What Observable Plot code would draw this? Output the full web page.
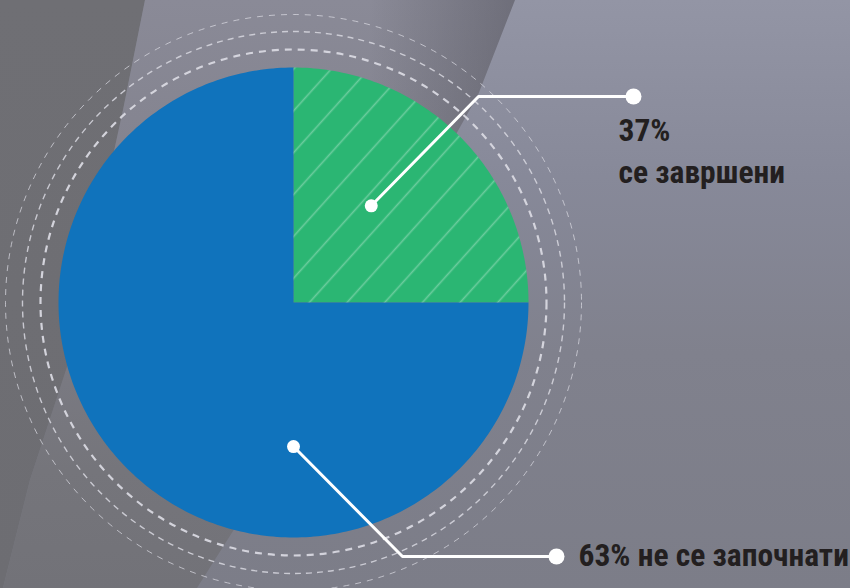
<!DOCTYPE html>
<html>
<head>
<meta charset="utf-8">
<script src="https://cdn.jsdelivr.net/npm/d3@7"></script>
<script src="https://cdn.jsdelivr.net/npm/@observablehq/plot@0.6"></script>
<style>
  html, body { margin: 0; padding: 0; background: #7e7f8a; }
  #wrap { position: relative; width: 850px; height: 588px; overflow: hidden;
    background: linear-gradient(180deg, #9395a5 0%, #878999 30%, #80818d 60%, #7c7d88 100%); }
  .bg { position: absolute; left: 0; top: 0; width: 850px; height: 588px; }
  #band { clip-path: polygon(145px 0, 515px 0, 478px 95px, 240px 520px, 197px 588px, 3px 588px, 30px 480px, 67px 367px, 123px 110px);
    background: linear-gradient(180deg, #8a8a97 0%, #80808b 40%, #75757b 80%, #727278 100%); }
  #bandShade { clip-path: polygon(145px 0, 515px 0, 478px 95px, 240px 520px, 197px 588px, 3px 588px, 30px 480px, 67px 367px, 123px 110px);
    background: linear-gradient(90deg, rgba(40,40,48,0) 0px, rgba(40,40,48,0) 370px, rgba(40,40,48,0.28) 515px); }
  #left { clip-path: polygon(0 0, 145px 0, 123px 110px, 67px 367px, 30px 480px, 3px 588px, 0 588px);
    background: linear-gradient(180deg, #6f6f74 0%, #6d6d72 100%); }
  #chart { position: absolute; left: 0; top: 0; }
</style>
</head>
<body>
<div id="wrap">
  <div class="bg" id="band"></div>
  <div class="bg" id="bandShade"></div>
  <div class="bg" id="left"></div>
  <div id="chart"></div>
</div>
<script>
// ---- data ----
const categories = ["се завршени", "не се започнати"];
// share of the circle as drawn in the picture (green wedge is a quarter)
const sliceShares = [25, 75];
// labels printed next to the chart
const percentLabels = ["37%", "63%"];

// ---- layout / style ----
const W = 850, H = 588;
const cx = 293, cy = 302, R = 235;
const sliceColors = ["#2bb673", "#1073bc"];
const font = "'Liberation Sans Narrow', 'Roboto Condensed', 'DejaVu Sans Condensed', Roboto, sans-serif";

const slices = categories.map((c, i) => ({category: c, share: sliceShares[i], label: percentLabels[i]}));
const arcs = d3.pie().sort(null).value(d => d.share)(slices);

// polygon outline of every slice
const poly = [];
for (const a of arcs) {
  const n = Math.max(8, Math.round((a.endAngle - a.startAngle) / (2 * Math.PI) * 360));
  poly.push({category: a.data.category, x: cx, y: cy});
  for (let k = 0; k <= n; k++) {
    const t = a.startAngle + (a.endAngle - a.startAngle) * k / n;
    poly.push({category: a.data.category, x: cx + R * Math.sin(t), y: cy - R * Math.cos(t)});
  }
  poly.push({category: a.data.category, x: cx, y: cy});
}
const greenPoly = poly.filter(d => d.category === categories[0]);

// callout geometry (anchor in polar coords around the centre, then elbow and end)
const calloutLayout = [
  {angle: 38.8, rf: 0.528, elbow: [478, 96], end: [633, 96]},
  {angle: 180, rf: 0.613, elbow: [402, 556], end: [556, 556]}
];
const leaders = [], anchors = [], ends = [];
calloutLayout.forEach((c, i) => {
  const t = c.angle * Math.PI / 180;
  const ax = cx + R * c.rf * Math.sin(t), ay = cy - R * c.rf * Math.cos(t);
  const cat = categories[i];
  leaders.push({cat, x: ax, y: ay}, {cat, x: c.elbow[0], y: c.elbow[1]}, {cat, x: c.end[0], y: c.end[1]});
  anchors.push({x: ax, y: ay});
  ends.push({x: c.end[0], y: c.end[1]});
});

const texts = [
  {x: 618, y: 130.4, text: percentLabels[0]},
  {x: 618, y: 172.4, text: categories[0]},
  {x: 578, y: 555.4, text: percentLabels[1] + " " + categories[1]}
];

const centre = [{x: cx, y: cy}];
const ringColor = "#d8d8e0";

const plot = Plot.plot({
  width: W, height: H, margin: 0,
  x: {domain: [0, W], range: [0, W], axis: null},
  y: {domain: [0, H], range: [0, H], axis: null},
  color: {domain: categories, range: sliceColors},
  style: {background: "transparent", overflow: "visible"},
  marks: [
    Plot.dot(centre, {x: "x", y: "y", r: 288, fill: "none", stroke: ringColor, strokeOpacity: 0.75, strokeWidth: 1, strokeDasharray: "6 6"}),
    Plot.dot(centre, {x: "x", y: "y", r: 271, fill: "none", stroke: ringColor, strokeOpacity: 0.85, strokeWidth: 1.4, strokeDasharray: "6 5"}),
    Plot.dot(centre, {x: "x", y: "y", r: 253, fill: "none", stroke: ringColor, strokeOpacity: 0.95, strokeWidth: 2.2, strokeDasharray: "7 6"}),
    Plot.line(poly, {x: "x", y: "y", z: "category", fill: "category", stroke: "none", curve: "linear"}),
    Plot.line(greenPoly, {x: "x", y: "y", fill: "url(#hatch)", stroke: "none", curve: "linear"}),
    Plot.line(leaders, {x: "x", y: "y", z: "cat", stroke: "white", strokeWidth: 3, curve: "linear"}),
    Plot.dot(anchors, {x: "x", y: "y", r: 6.5, fill: "white"}),
    Plot.dot(ends, {x: "x", y: "y", r: 8, fill: "white"}),
    Plot.text(texts, {x: "x", y: "y", text: "text", textAnchor: "start", fontSize: 31.5, fontWeight: 700, fontFamily: font, fill: "#231f20"})
  ]
});

// hatch pattern for the green slice
const svg = d3.select(plot);
const defs = svg.insert("defs", ":first-child");
const pat = defs.append("pattern")
  .attr("id", "hatch").attr("patternUnits", "userSpaceOnUse")
  .attr("width", 28).attr("height", 28)
  .attr("patternTransform", "rotate(42)");
pat.append("line").attr("x1", 11.6).attr("x2", 11.6).attr("y1", -2).attr("y2", 30)
  .attr("stroke", "white").attr("stroke-opacity", 0.3).attr("stroke-width", 1.6);

document.getElementById("chart").appendChild(plot);
</script>
</body>
</html>
